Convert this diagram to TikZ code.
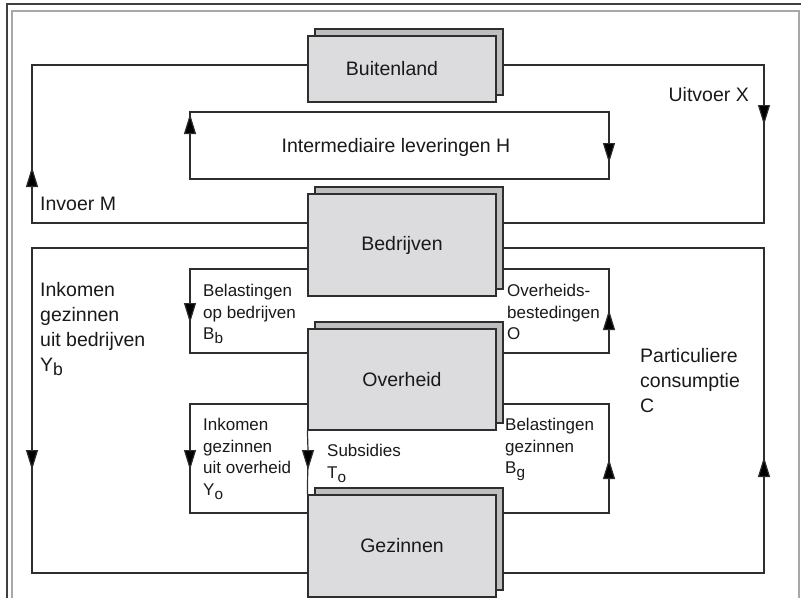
\documentclass[tikz,border=0pt]{standalone}
\usepackage{fontspec}
\setmainfont{Liberation Sans}
\usetikzlibrary{arrows.meta, shadows, backgrounds}
\definecolor{linegray}{HTML}{2E2E2E}
\definecolor{boxfront}{HTML}{DCDCDE}
\definecolor{boxback}{HTML}{BEBEC0}
\definecolor{framegray}{HTML}{A8A8A8}
\tikzset{>={Triangle[length=20pt, width=12pt]}}
\tikzset{
	sector/.style={draw=linegray, line width=1.2pt, fill=boxfront, minimum width=188pt, minimum height=102pt, inner sep=0pt, font=\fontsize{19.5}{25}\selectfont, text=black!90, copy shadow={shadow xshift=7pt, shadow yshift=7pt, fill=boxback, draw=linegray, line width=1.2pt}},
	flow/.style={draw=linegray, line width=1.2pt},
	tip/.style={->},
	biglabel/.style={inner sep=0pt, align=left, font=\fontsize{19.5}{25}\selectfont, text=black!90},
	smalllabel/.style={inner sep=0pt, align=left, font=\fontsize{17}{21.5}\selectfont, text=black!90}
}
\newcommand{\lowsub}[1]{\raisebox{-0.45ex}{\scalebox{0.9}{#1}}}

\begin{document}
\begin{tikzpicture}[x=1pt, y=-1pt]
	\useasboundingbox (0,0) rectangle (801,598);
	\draw[black!75, line width=1.5pt] (7,598) -- (7,4) -- (801,4);
	\draw[framegray, line width=1.3pt] (12,598) -- (12,11) -- (799,11) -- (799,598);

	\node[sector, minimum height=66pt] (bui) at (402,69) {\hspace*{-20pt}Buitenland};
	\node[sector] (bedr) at (402,245) {Bedrijven};
	\node[sector, minimum height=101pt] (over) at (402,379.5) {Overheid};
	\node[sector] (gez) at (402,546) {Gezinnen};

	\node[biglabel, anchor=base west] (invoer) at (40,210) {Invoer M};
	\node[biglabel, anchor=base east] (uitvoer) at (749,101) {Uitvoer X};
	\node[biglabel, anchor=base] (interm) at (396,152) {Intermediaire leveringen H};
	\node[biglabel, anchor=north west] (inkb) at (40,282) {Inkomen\\gezinnen\\uit bedrijven\\Y\lowsub{b}};
	\node[biglabel, anchor=north west] (cons) at (640,348) {Particuliere\\consumptie\\C};
	\node[smalllabel, anchor=north west] (belb) at (203,284) {Belastingen\\op bedrijven\\B\lowsub{b}};
	\node[smalllabel, anchor=north west] (best) at (507,284) {Overheids-\\bestedingen\\O};
	\node[smalllabel, anchor=north west] (inko) at (203,418) {Inkomen\\gezinnen\\uit overheid\\Y\lowsub{o}};
	\node[smalllabel, anchor=north west] (subs) at (327,444) {Subsidies\\T\lowsub{o}};
	\node[smalllabel, anchor=north west] (belg) at (505,418) {Belastingen\\gezinnen\\B\lowsub{g}};

	\begin{scope}[on background layer]
		% buitenland
		\draw[flow] (bedr.west |- 0,223) -| (32,187) edge[tip] (32,167) -- (32,65) -- (bui.west |- 0,65);
		\draw[flow] (bui.east |- 0,65) -| (764,105) edge[tip] (764,125) -- (764,223) -- (bedr.east |- 0,223);
		\draw[flow] (190,112) -- (609,112) -- (609,143) edge[tip] (609,163) -- (609,179) -- (190,179) -- (190,134) edge[tip] (190,114) -- cycle;
		% gezinnen en bedrijven
		\draw[flow] (bedr.west |- 0,248) -| (32,450) edge[tip] (32,470) -- (32,573) -- (gez.west |- 0,573);
		\draw[flow] (gez.east |- 0,573) -| (764,476) edge[tip] (764,457) -- (764,248) -- (bedr.east |- 0,248);
		% overheid
		\draw[flow] (bedr.west |- 0,269) -| (190,304) edge[tip] (190,323) -- (190,353) -- (over.west |- 0,353);
		\draw[flow] (over.east |- 0,353) -| (609,329) edge[tip] (609,310) -- (609,269) -- (bedr.east |- 0,269);
		\draw[flow] (over.west |- 0,404) -| (190,450) edge[tip] (190,470) -- (190,513) -- (gez.west |- 0,513);
		\draw[flow] (gez.east |- 0,513) -| (609,478) edge[tip] (609,459) -- (609,404) -- (over.east |- 0,404);
		\draw[flow] (over.south west) -- (308,450) edge[tip] (308,470) -- (gez.north west);
	\end{scope}
\end{tikzpicture}
\end{document}
